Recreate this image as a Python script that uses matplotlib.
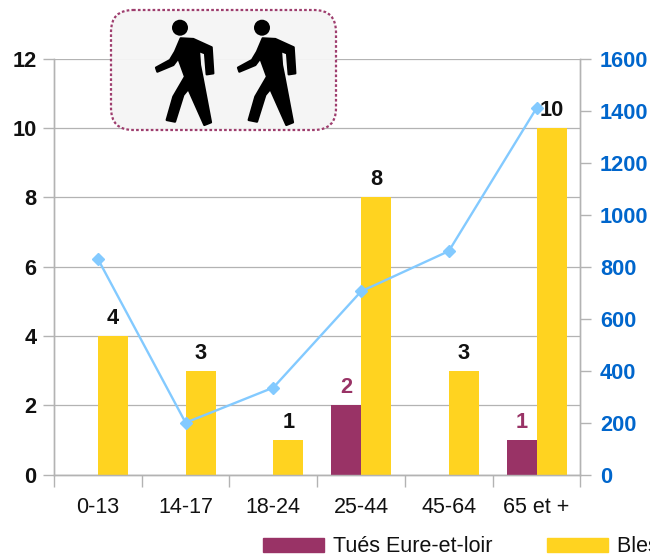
import matplotlib
matplotlib.use("Agg")
import matplotlib.pyplot as plt
from matplotlib.patches import Polygon, Circle, FancyBboxPatch, Patch
from matplotlib.transforms import Affine2D

plt.rcParams['font.family'] = ['Liberation Sans', 'DejaVu Sans']

categories = ['0-13', '14-17', '18-24', '25-44', '45-64', '65 et +']
tues = [0, 0, 0, 2, 0, 1]
blesses = [4, 3, 1, 8, 3, 10]
pietons = [830, 200, 335, 705, 860, 1410]
left_ticks = [0, 2, 4, 6, 8, 10, 12]
right_ticks = [0, 200, 400, 600, 800, 1000, 1200, 1400, 1600]

MAROON = '#993366'
YELLOW = '#FFD320'
LINE = '#83CAFF'
BLUE = '#0066CC'
GRID = '#B3B3B3'
DARK = '#111111'

W, H = 650, 556
fig = plt.figure(figsize=(W / 100, H / 100), dpi=100)
ax = fig.add_axes([54 / W, (H - 474.7) / H, 526.4 / W, 416 / H])
ax2 = ax.twinx()

x = list(range(len(categories)))
bw = 0.342
ax.bar([i - bw / 2 for i in x], tues, bw, color=MAROON, zorder=3)
ax.bar([i + bw / 2 for i in x], blesses, bw, color=YELLOW, zorder=3)
ax.set_xlim(-0.5, 5.5)
ax.set_ylim(0, 12)
ax.set_yticks(left_ticks)
ax.set_xticks([i - 0.5 for i in range(7)])
ax.set_xticklabels([])
ax.set_xticks(x, categories, minor=True)
ax.tick_params(axis='x', which='minor', length=0, pad=16, labelsize=15.5, labelcolor=DARK)
ax.tick_params(axis='x', which='major', length=8.5, color=GRID, width=1)
ax.tick_params(axis='y', length=8, color=GRID, width=1, pad=4.5, labelsize=15.7, labelcolor=DARK)
for t in ax.get_yticklabels():
    t.set_fontweight('bold')
ax.grid(axis='y', color=GRID, lw=0.9, zorder=0)
ax.set_axisbelow(True)
ax.spines['top'].set_visible(False)
for s in ['left', 'right', 'bottom']:
    ax.spines[s].set_color(GRID)
    ax.spines[s].set_linewidth(1)

ax2.plot(x, pietons, color=LINE, lw=1.7, marker='D', ms=6.2, mec=LINE, mfc=LINE, zorder=5)
ax2.set_ylim(0, 1600)
ax2.set_yticks(right_ticks)
ax2.tick_params(axis='y', length=8, color=GRID, width=1, pad=6, labelsize=15.7, labelcolor=BLUE)
for t in ax2.get_yticklabels():
    t.set_fontweight('bold')
ax2.spines['top'].set_visible(False)
for s in ['left', 'right', 'bottom']:
    ax2.spines[s].set_color(GRID)
    ax2.spines[s].set_linewidth(1)

for i, v in enumerate(blesses):
    ax2.annotate(str(v), (i + bw / 2, v), xycoords=ax.transData, xytext=(0, 5),
                 textcoords='offset points', ha='center', va='bottom',
                 fontsize=15.7, fontweight='bold', color=DARK, zorder=6)
for i, v in enumerate(tues):
    if v:
        ax2.annotate(str(v), (i - bw / 2, v), xycoords=ax.transData, xytext=(0, 5),
                     textcoords='offset points', ha='center', va='bottom',
                     fontsize=15.7, fontweight='bold', color=MAROON, zorder=6)

# Legend, running past the right edge as in the reference
fig.legend(handles=[Patch(color=MAROON, label='Tués Eure-et-loir'),
                    Patch(color=YELLOW, label='Blessés Eure-et-loir')],
           loc='lower left', bbox_to_anchor=(263 / W, -1.5 / H), ncol=2, frameon=False,
           fontsize=15.5, handlelength=2.85, handleheight=0.6, handletextpad=0.42,
           columnspacing=2.5, borderaxespad=0, borderpad=0, labelcolor=DARK)

# Decorative pedestrian panel, in pixel coordinates
px = Affine2D().scale(1, -1).translate(0, H)
fig.add_artist(FancyBboxPatch((131, 30), 185, 80, boxstyle='round,pad=20,rounding_size=22',
                              fc='#F5F5F5', ec=MAROON, lw=1.6, ls=(0, (1.2, 1.0)), alpha=0.95,
                              transform=px))
body = [(92, 70), (130, 72), (185, 97), (190, 175), (170, 178), (165, 115), (147, 108),
        (150, 150), (158, 190), (183, 322), (163, 330), (115, 222), (100, 240), (75, 320),
        (50, 315), (70, 245), (105, 185), (85, 130), (70, 150), (22, 170), (18, 158),
        (60, 135), (75, 110)]
for dx in (0, 82):
    pts = [(150 + a / 3 + dx, 15 + b / 3) for a, b in body]
    fig.add_artist(Polygon(pts, closed=True, fc='black', ec='black', lw=1.6, joinstyle='round',
                           transform=px))
    fig.add_artist(Circle((180 + dx, 27.7), 8, fc='black', ec='none', transform=px))

fig.savefig('out.png', dpi=100)
